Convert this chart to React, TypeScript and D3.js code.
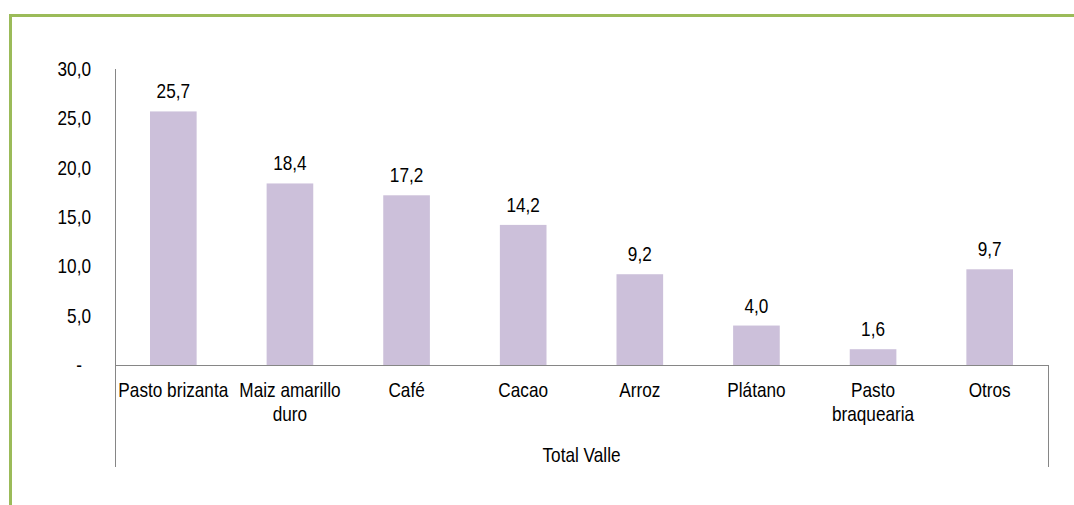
import React from "react";
import * as d3 from "d3";

const categories: string[][] = [
  ["Pasto brizanta"],
  ["Maiz amarillo", "duro"],
  ["Café"],
  ["Cacao"],
  ["Arroz"],
  ["Plátano"],
  ["Pasto", "braquearia"],
  ["Otros"],
];
const values: number[] = [25.7, 18.4, 17.2, 14.2, 9.2, 4.0, 1.6, 9.7];
const yTicks: number[] = [0, 5, 10, 15, 20, 25, 30];
const groupLabel = "Total Valle";

const fmt = (v: number) => (v === 0 ? "-" : v.toFixed(1).replace(".", ","));

const font = "'Liberation Sans', Arial, sans-serif";
const SX = 0.86;

function T({ x, y, anchor = "middle", children }: { x: number; y: number; anchor?: string; children: React.ReactNode }) {
  return (
    <text transform={`translate(${x},${y}) scale(${SX},1)`} textAnchor={anchor as any}
      fontFamily={font} fontSize={20} fill="#000">{children}</text>
  );
}

export default function App() {
  const W = 1074, H = 505;
  const left = 115, right = 1048, top = 69, base = 365, bottom = 467;
  const x = d3.scaleBand<number>().domain(d3.range(values.length)).range([left, right]).paddingInner(0.6).paddingOuter(0.3);
  const y = d3.scaleLinear().domain([0, 30]).range([base, top]);
  const axisColor = "#868686";
  const cx = (i: number) => (x(i) as number) + x.bandwidth() / 2;
  return (
    <svg width={W} height={H} style={{ position: "absolute", left: 0, top: 0, background: "#fff" }}>
      <path d={`M10.5,${H} V15.5 H${W}`} fill="none" stroke="#9BBB59" strokeWidth={3} />
      {yTicks.map((t) => (
        <T key={t} x={t === 0 ? 79 : 91} y={y(t) + 7} anchor={t === 0 ? "middle" : "end"}>{fmt(t)}</T>
      ))}
      {values.map((v, i) => (
        <g key={i}>
          <rect x={x(i)} y={y(v)} width={x.bandwidth()} height={base - y(v)} fill="#CCC0DA" />
          <T x={cx(i)} y={y(v) - 13}>{fmt(v)}</T>
          {categories[i].map((line, j) => (
            <T key={j} x={cx(i)} y={397 + j * 24}>{line}</T>
          ))}
        </g>
      ))}
      <line x1={left + 0.5} x2={left + 0.5} y1={top} y2={bottom} stroke={axisColor} strokeWidth={1} />
      <line x1={left} x2={right} y1={base + 0.5} y2={base + 0.5} stroke={axisColor} strokeWidth={1} />
      <line x1={right + 0.5} x2={right + 0.5} y1={base} y2={bottom} stroke={axisColor} strokeWidth={1} />
      <T x={(left + right) / 2} y={462}>{groupLabel}</T>
    </svg>
  );
}
